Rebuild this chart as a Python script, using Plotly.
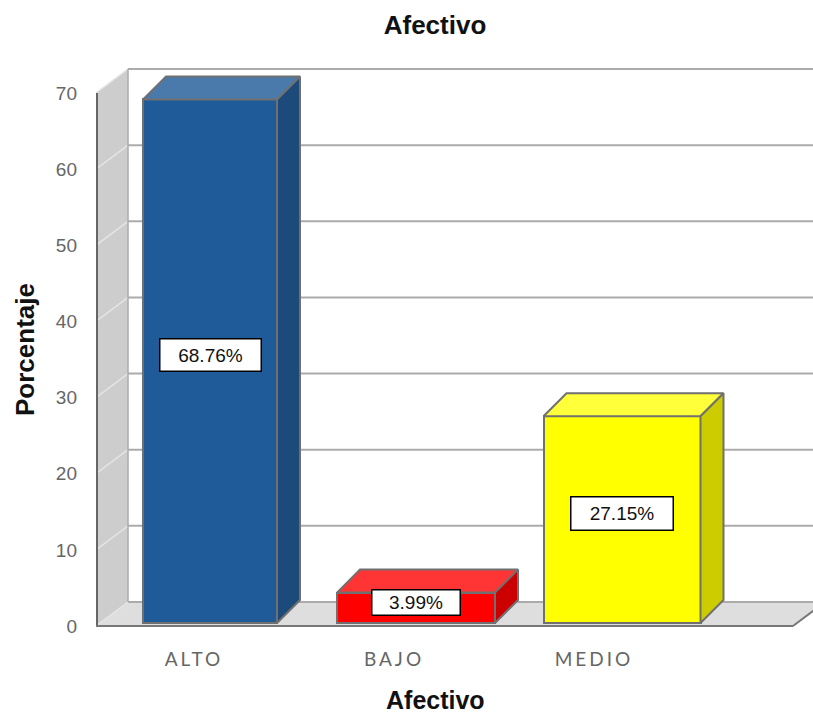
import plotly.graph_objects as go

# ---- data -------------------------------------------------------------
categories = ["ALTO", "BAJO", "MEDIO"]
percentages = [68.76, 3.99, 27.15]
y_ticks = [0, 10, 20, 30, 40, 50, 60, 70]

# ---- styling ----------------------------------------------------------
front_colors = ["#1F5B98", "#FF0000", "#FFFF00"]
top_colors = ["#4A79AC", "#FF3535", "#FFFF3A"]
side_colors = ["#1B4A7B", "#CC0000", "#CCCC00"]
bar_widths_px = [134, 158, 157]
label_box_w = [100, 87, 101]
label_box_h = [31, 24, 32]

W, H = 813, 715
M_L, M_R, M_T, M_B = 96, 0, 60, 75
PX_PER_CAT = 206.0            # horizontal pixels per category step
PX_PER_UNIT = 533.0 / 70.0    # vertical pixels per percentage point
ZERO_PX = 626                 # pixel row of the front zero line
FIRST_CAT_PX = 210            # pixel column of the first category


def dx(px):
    return px / PX_PER_CAT


def dy(px):
    return px / PX_PER_UNIT


x0 = -dx(FIRST_CAT_PX - M_L)
x1 = x0 + dx(W - M_L - M_R)
y0 = -dy((H - M_B) - ZERO_PX)
y1 = dy(ZERO_PX - M_T)

WDX, WDY = dx(32), dy(24)     # depth of the walls / floor
BDX, BDY = dx(23), dy(23)     # depth of each bar
LIFT = dy(3)                  # bars stand slightly inside the floor
y_top = y_ticks[-1]
x_floor_end = x0 + dx(793 - M_L)

positions = list(range(len(categories)))


def path(points):
    return "M " + " L ".join(f"{px},{py}" for px, py in points) + " Z"


shapes = []
# left wall
shapes.append(dict(type="path", layer="below", xref="x", yref="y",
                   path=path([(x0, 0), (x0, y_top), (x0 + WDX, y_top + WDY), (x0 + WDX, WDY)]),
                   fillcolor="#CDCDCD", line=dict(width=0)))
# floor
shapes.append(dict(type="path", layer="below", xref="x", yref="y",
                   path=path([(x0, 0), (x0 + WDX, WDY), (x_floor_end + WDX, WDY), (x_floor_end, 0)]),
                   fillcolor="#DEDEDE", line=dict(width=0)))
# back-wall grid lines and their diagonals on the left wall
for t in y_ticks:
    shapes.append(dict(type="line", layer="below", xref="x", yref="y",
                       x0=x0 + WDX, x1=x1 + 1, y0=t + WDY, y1=t + WDY,
                       line=dict(color="#ABABAB", width=2)))
    shapes.append(dict(type="line", layer="below", xref="x", yref="y",
                       x0=x0, x1=x0 + WDX, y0=t, y1=t + WDY,
                       line=dict(color="#E4E4E4", width=1.5)))
# back-wall corner edge
shapes.append(dict(type="line", layer="below", xref="x", yref="y",
                   x0=x0 + WDX, x1=x0 + WDX, y0=WDY, y1=y_top + WDY,
                   line=dict(color="#ABABAB", width=1.5)))
# front axis edges
shapes.append(dict(type="line", layer="above", xref="x", yref="y",
                   x0=x0 + dx(1), x1=x0 + dx(1), y0=0, y1=y_top,
                   line=dict(color="#666666", width=2)))
shapes.append(dict(type="line", layer="above", xref="x", yref="y",
                   x0=x0, x1=x_floor_end, y0=0, y1=0,
                   line=dict(color="#777777", width=2)))
shapes.append(dict(type="line", layer="above", xref="x", yref="y",
                   x0=x_floor_end, x1=x_floor_end + WDX, y0=0, y1=WDY,
                   line=dict(color="#777777", width=2)))

fig = go.Figure()

bar_widths = [dx(w) for w in bar_widths_px]
fig.add_trace(go.Bar(
    x=positions, y=percentages, base=[LIFT] * len(percentages),
    width=bar_widths,
    marker=dict(color=front_colors, line=dict(color="#707070", width=2)),
    hoverinfo="skip", showlegend=False,
))

# top and side faces of each bar
for i, v in enumerate(percentages):
    xl = positions[i] - bar_widths[i] / 2
    xr = positions[i] + bar_widths[i] / 2
    top = LIFT + v
    fig.add_trace(go.Scatter(
        x=[xl, xr, xr + BDX, xl + BDX, xl],
        y=[top, top, top + BDY, top + BDY, top],
        fill="toself", fillcolor=top_colors[i], mode="lines",
        line=dict(color="#707070", width=2), hoverinfo="skip", showlegend=False))
    fig.add_trace(go.Scatter(
        x=[xr, xr + BDX, xr + BDX, xr, xr],
        y=[LIFT, LIFT + BDY, top + BDY, top, LIFT],
        fill="toself", fillcolor=side_colors[i], mode="lines",
        line=dict(color="#707070", width=2), hoverinfo="skip", showlegend=False))

annotations = []
for i, v in enumerate(percentages):
    annotations.append(dict(
        x=positions[i], y=LIFT + v / 2 + BDY / 4, xref="x", yref="y",
        text=f"{v:.2f}%", showarrow=False,
        font=dict(family="Liberation Sans, Arial, sans-serif", size=19, color="#111111"),
        bgcolor="#FFFFFF", bordercolor="#000000", borderwidth=1.5, borderpad=0,
        width=label_box_w[i], height=label_box_h[i], align="center", valign="middle"))

annotations.append(dict(
    x=(25 - M_L) / (W - M_L - M_R), y=0.5, xref="paper", yref="paper",
    text="<b>Porcentaje</b>", textangle=-90, showarrow=False,
    xanchor="center", yanchor="middle",
    font=dict(family="Liberation Sans, Arial, sans-serif", size=26, color="#111111")))
annotations.append(dict(
    x=(435 - M_L) / (W - M_L - M_R), y=((H - M_B) - 700) / (H - M_T - M_B),
    xref="paper", yref="paper",
    text="<b>Afectivo</b>", showarrow=False, xanchor="center", yanchor="middle",
    font=dict(family="Liberation Sans, Arial, sans-serif", size=25, color="#111111")))

fig.update_layout(
    width=W, height=H,
    margin=dict(l=M_L, r=M_R, t=M_T, b=M_B),
    paper_bgcolor="#FFFFFF", plot_bgcolor="#FFFFFF",
    title=dict(text="<b>Afectivo</b>", x=435 / W, y=1 - 25 / H,
               xref="container", yref="container", xanchor="center", yanchor="middle",
               font=dict(family="Liberation Sans, Arial, sans-serif", size=26, color="#111111")),
    shapes=shapes, annotations=annotations,
    bargap=0,
    xaxis=dict(range=[x0, x1], showgrid=False, zeroline=False, showline=False,
               tickvals=[p - dx(16) - p * dx(6) for p in positions],
               ticktext=[f'<span style="letter-spacing:3px">{c}</span>' for c in categories],
               ticks="", ticklabelstandoff=6,
               tickfont=dict(family="Lato, Open Sans, sans-serif", size=19, color="#666666"),
               fixedrange=True),
    yaxis=dict(range=[y0, y1], showgrid=False, zeroline=False, showline=False,
               tickvals=y_ticks, ticks="", ticklabelstandoff=18,
               tickfont=dict(family="Liberation Sans, Arial, sans-serif", size=19, color="#666666"),
               fixedrange=True),
)

fig.write_html("out.html")
